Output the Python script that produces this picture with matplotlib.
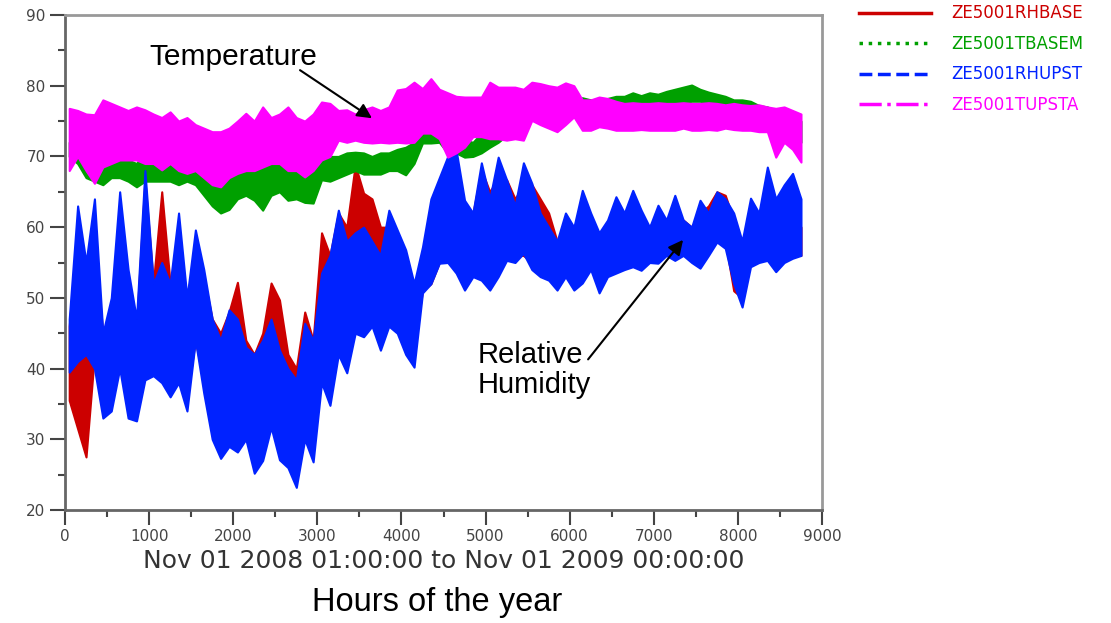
import numpy as np
import matplotlib
matplotlib.use("Agg")
from matplotlib import pyplot as plt
from matplotlib.lines import Line2D

# 100-hour bins, band high / low
hours = np.arange(0, 8800, 100)

rh_base_hi = [46, 60, 52, 58, 45, 48, 60, 52, 46, 66.7,
              52, 65, 52, 58, 50, 57, 53, 47, 45, 48,
              52.2, 44, 42, 45, 52.1, 49.7, 42, 40, 48, 44,
              59.2, 56, 62, 60, 68.8, 64.8, 64, 60, 60, 58,
              55, 50, 56, 62, 66, 68, 68, 60, 62, 68.1,
              65, 67, 66.7, 64, 66, 66, 64, 62, 58, 60,
              59, 63, 60, 58, 60, 62, 61, 62, 61, 60,
              62, 61, 62, 61, 60, 62, 63, 65, 64.5, 61,
              56, 60, 60, 62, 62, 62, 62, 60]
rh_base_lo = [35.5, 31.5, 27.5, 42, 34, 36, 42, 35, 34, 40,
              40, 40, 38, 40, 36, 44, 38, 32, 30, 30,
              30, 31, 28, 30, 33, 30, 30, 30, 32, 30,
              40, 36, 44, 42, 48, 50, 48, 45, 47, 46,
              43, 43, 51, 52, 55, 56, 54, 52, 54, 54,
              53, 54, 56, 56, 56, 55, 55, 55, 53, 54,
              53, 54, 55, 53, 54, 55, 55, 56, 55, 56,
              56, 57, 57, 57, 56, 56, 57, 58, 58, 51,
              50, 55, 56, 56, 56, 56, 57, 56]

t_basem_hi = [72, 71.5, 70, 69.5, 69, 69.5, 70, 69.5, 69, 70.5,
              69.5, 69.5, 70, 69.5, 69.5, 69.5, 68.5, 67, 66.5, 66.7,
              68, 68.5, 68, 68.5, 69, 69.1, 68.5, 68.5, 68, 68,
              72.8, 70, 70, 70.5, 70.6, 70.5, 70, 70.5, 70.5, 71,
              71.3, 72, 75.6, 74.2, 74, 72.8, 72.5, 72.3, 72, 73.3,
              73.5, 75, 76, 76.5, 77, 77.5, 77.5, 77.5, 77.5, 77.5,
              77.8, 78.3, 78, 78, 78.2, 78.5, 78.5, 79, 78.6, 79,
              78.8, 79.2, 79.5, 79.8, 80.1, 79.5, 79.1, 78.8, 78.5, 78,
              78, 77.8, 77.2, 77, 76.5, 76.5, 76, 75]
t_basem_lo = [70, 69, 67, 66.5, 66, 67, 67, 66.5, 65.7, 66.5,
              66.5, 66.5, 66.5, 66, 66.5, 66, 64.5, 63, 62, 62.5,
              64, 64.5, 63.8, 62.4, 64.5, 65, 63.8, 64, 63.5, 63.4,
              66.7, 66.5, 67, 67.5, 68, 67.5, 67.5, 67.5, 68, 68,
              67.4, 69, 71.9, 71.9, 72, 70.5, 70.5, 69.9, 70, 70.5,
              71.3, 72, 73, 74, 75, 75.5, 75.5, 75.5, 75.5, 75.5,
              75.8, 76.3, 76.6, 76.6, 76.6, 77, 77, 77, 77, 77.2,
              77.5, 77.5, 77.6, 77.6, 77.8, 77.8, 77.5, 77.3, 77, 76.6,
              76.4, 76.3, 76, 75.5, 73, 72.5, 72.3, 72]

rh_upst_hi = [47, 63, 55, 64, 45, 50, 65, 54, 47, 68,
              52, 55, 52, 62, 50, 59.6, 54, 47, 44, 48.3,
              47, 43, 42, 44, 47, 42.6, 40, 38.4, 46.4, 44,
              53.5, 56, 62.4, 58, 59.2, 60, 58, 56, 62.4, 59.6,
              56.8, 52, 57.2, 64, 67, 70, 70.9, 63.8, 62, 69.1,
              64, 69.9, 66.7, 63, 69.1, 66.2, 62, 60, 58, 62,
              60, 65.2, 62, 59.2, 61, 64.3, 62, 65.2, 62.4, 60,
              63.1, 61, 64.5, 61, 60, 63.8, 62, 65, 64, 62,
              58, 64.1, 62, 68.5, 64, 66, 67.6, 64]
rh_upst_lo = [39.5, 41, 42, 40, 33, 34, 40, 33, 32.6, 38.4,
              39, 38, 36, 38, 34, 44, 36.5, 30, 27.3, 29,
              28.2, 30, 25.2, 27, 31.7, 27.1, 26, 23.2, 30, 26.8,
              38, 34.8, 42, 39.4, 45, 44.5, 46, 42.6, 46, 45,
              42, 40.2, 50.7, 52, 54.9, 55, 53.5, 51.1, 53, 52.5,
              51.1, 53, 55.3, 55, 56.3, 54, 53, 52.5, 51.1, 53,
              51.1, 52.1, 54, 50.7, 53, 53.5, 54, 54.4, 53.9, 55,
              54.9, 56, 55.3, 56, 55, 54.2, 56, 57.9, 57, 52,
              48.7, 54.4, 55, 55.3, 53.7, 55, 55.6, 56]

t_upsta_hi = [76.8, 76.5, 76, 75.9, 78, 77.5, 77, 76.5, 77, 76.6,
              76, 75.5, 76.3, 75, 75.5, 74.5, 74, 73.5, 73.5, 74,
              75, 76.1, 75, 77, 75.5, 76, 77, 75.5, 75, 76,
              77.7, 77.5, 76.5, 76.6, 76, 76.6, 77, 76.5, 77, 79.4,
              79.6, 80.5, 79.6, 81, 79.5, 79, 78.5, 78.4, 78.4, 78.4,
              80.5, 79.8, 79.8, 79.8, 79.5, 80.5, 80.3, 80, 79.8, 80.4,
              80, 78, 78, 78.4, 78.2, 77.8, 77.5, 77.6, 77.5, 77.5,
              77.6, 77.5, 77.5, 77.6, 77.5, 77.5, 77.6, 77.5, 77.3, 77.5,
              77.3, 77.2, 77.3, 77, 76.8, 77, 76.5, 76]
t_upsta_lo = [68, 70, 68, 66.2, 68.5, 69, 69.5, 69.5, 69.5, 69,
              69, 68.1, 69, 68, 67.6, 68, 67, 66, 65.7, 67,
              67.6, 68, 68, 68.5, 69, 69, 68, 68, 67.1, 68,
              69.5, 70, 72.3, 72, 72.3, 72, 71.9, 72, 71.9, 72,
              71.9, 72, 73.3, 73.3, 72.5, 69.9, 70.5, 71.3, 72.8, 72.8,
              72.5, 72.5, 72.3, 72.5, 72.3, 75.1, 74.5, 74, 73.5, 74.5,
              75.6, 73.7, 73.7, 74.2, 74, 73.7, 73.7, 73.7, 73.8, 73.7,
              73.7, 73.7, 73.7, 74, 73.7, 73.7, 73.8, 73.7, 74, 73.8,
              73.7, 73.7, 73.5, 73.5, 69.9, 72, 71, 69.2]

names = ["ZE5001RHBASE", "ZE5001TBASEM", "ZE5001RHUPST", "ZE5001TUPSTA"]
colors = ["#cc0000", "#00a000", "#0022ff", "#ff00ff"]
styles = ["-", ":", "--", "-."]

fig = plt.figure(figsize=(11.11, 6.23), dpi=100)
ax = fig.add_axes([65 / 1111, 1 - 510 / 623, (822 - 65) / 1111, (510 - 15) / 623])

series = [(rh_base_hi, rh_base_lo), (t_basem_hi, t_basem_lo),
          (rh_upst_hi, rh_upst_lo), (t_upsta_hi, t_upsta_lo)]
mid = hours + 50
for (hi, lo), c in zip(series, colors):
    ax.fill_between(mid, lo, hi, color=c, lw=1.5, edgecolor=c)

ax.set_xlim(0, 9000)
ax.set_ylim(20, 90)
ax.set_xticks(np.arange(0, 9001, 1000))
ax.set_xticks(np.arange(0, 9001, 500), minor=True)
ax.set_yticks(np.arange(20, 91, 10))
ax.set_yticks(np.arange(20, 91, 5), minor=True)
ax.tick_params(which="major", direction="out", length=11, width=1.5, color="#444444",
               labelsize=11, labelcolor="#444444", pad=3)
ax.tick_params(which="minor", direction="out", length=5, width=1.5, color="#444444")
for s in ["left", "bottom"]:
    ax.spines[s].set_color("#666666")
    ax.spines[s].set_linewidth(2)
for s in ["top", "right"]:
    ax.spines[s].set_color("#999999")
    ax.spines[s].set_linewidth(2)

ax.set_xlabel("Nov 01 2008 01:00:00 to Nov 01 2009 00:00:00", fontsize=18,
              color="#333333", labelpad=3)
fig.text(437 / 1111, 1 - 603 / 623, "Hours of the year", fontsize=23.5,
         family="Liberation Sans", ha="center", va="center")

ax.text(1998, 84.0, "Temperature", fontsize=21.5, family="Liberation Sans",
        ha="center", va="center")
ax.annotate("", xy=(3650, 75.4), xytext=(2794, 82.2),
            arrowprops=dict(arrowstyle="-|>", mutation_scale=22, color="black", lw=1.5,
                            shrinkA=0, shrinkB=0))
ax.text(4911, 39.8, "Relative\nHumidity", fontsize=21, family="Liberation Sans",
        ha="left", va="center", linespacing=1.05)
ax.annotate("", xy=(7348, 58.2), xytext=(6219, 41.3),
            arrowprops=dict(arrowstyle="-|>", mutation_scale=22, color="black", lw=1.5,
                            shrinkA=0, shrinkB=0))

handles = [Line2D([], [], color=c, ls=st, lw=2.5) for c, st in zip(colors, styles)]
fig.legend(handles, names, loc="upper left", bbox_to_anchor=(851 / 1111, 1.0 + 4 / 623),
           frameon=False, fontsize=12, handlelength=4.3, handletextpad=1.2,
           labelspacing=0.75, labelcolor="linecolor", borderaxespad=0.1)

fig.savefig("out.png", dpi=100)
